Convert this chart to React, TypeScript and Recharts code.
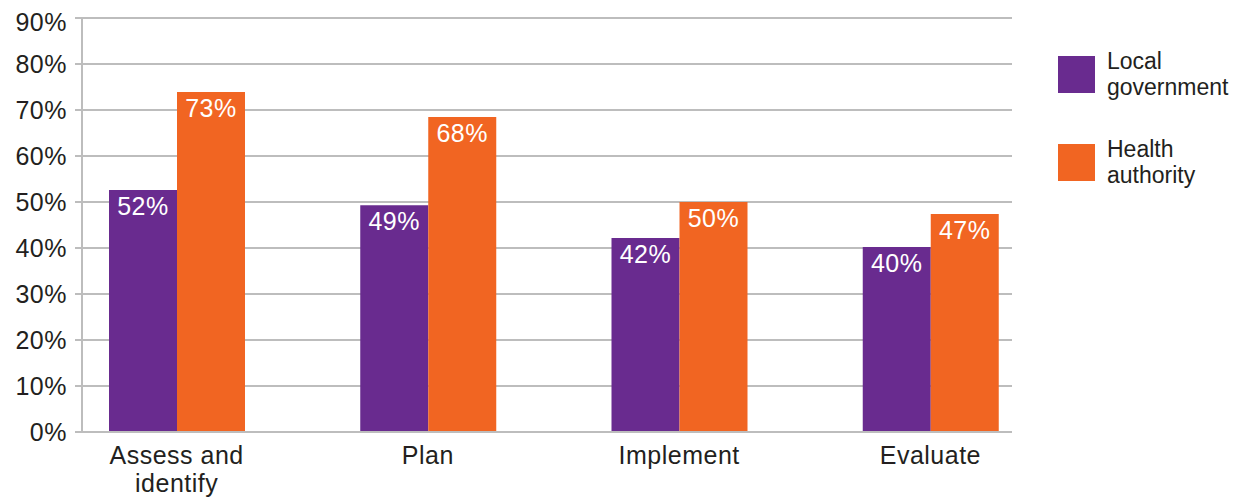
import { BarChart, Bar, XAxis, YAxis, CartesianGrid, Legend, LabelList } from "recharts";

const categories = ["Assess and identify", "Plan", "Implement", "Evaluate"];
const categoryLines = [["Assess and", "identify"], ["Plan"], ["Implement"], ["Evaluate"]];
const localGov = [52.6, 49.3, 42.2, 40.2];
const healthAuth = [73.9, 68.5, 50.0, 47.4];
const localLabels = ["52%", "49%", "42%", "40%"];
const healthLabels = ["73%", "68%", "50%", "47%"];
const seriesOrder = ["Local government", "Health authority"];
const yTicks = [0, 10, 20, 30, 40, 50, 60, 70, 80, 90];

const PURPLE = "#692b8f";
const ORANGE = "#f16522";
const GRID = "#bdbdbd";
const INK = "#231f20";
const FONT = "'Liberation Sans', Arial, Helvetica, sans-serif";

const data = categories.map((name, i) => ({
  name,
  local: localGov[i],
  health: healthAuth[i],
  localLabel: localLabels[i],
  healthLabel: healthLabels[i],
}));

const labelStyle = { fontSize: 25, fontFamily: FONT, letterSpacing: 0.5 };

function CategoryTick({ x, y, payload }: any) {
  const idx = categories.indexOf(payload.value);
  const lines = idx >= 0 ? categoryLines[idx] : [payload.value];
  return (
    <text x={x} y={y} textAnchor="middle" fill={INK} style={labelStyle}>
      {lines.map((l: string, i: number) => (
        <tspan key={i} x={x} dy={i === 0 ? "0.71em" : 28}>
          {l}
        </tspan>
      ))}
    </text>
  );
}

function LegendBox({ payload }: any) {
  const items = [...(payload || [])].sort(
    (a: any, b: any) => seriesOrder.indexOf(a.value) - seriesOrder.indexOf(b.value)
  );
  return (
    <div style={{ fontFamily: FONT, fontSize: 23, color: INK }}>
      {items.map((p: any) => (
        <div key={p.value} style={{ display: "flex", alignItems: "center", marginBottom: 36 }}>
          <div style={{ width: 37, height: 37, background: p.color, marginRight: 12, flexShrink: 0 }} />
          <div style={{ width: 140, lineHeight: "26px" }}>{p.value}</div>
        </div>
      ))}
    </div>
  );
}

export default function App() {
  return (
    <div style={{ fontFamily: FONT }}>
      <BarChart
        width={1239}
        height={490}
        data={data}
        margin={{ top: 10, right: 235, left: 0, bottom: 6 }}
        barCategoryGap={58}
        barGap={0}
      >
        <CartesianGrid vertical={false} stroke={GRID} strokeWidth={2} />
        <XAxis
          dataKey="name"
          height={60}
          padding={{ left: -31, right: -44 }}
          axisLine={{ stroke: GRID, strokeWidth: 2 }}
          tickLine={false}
          tickSize={0}
          tickMargin={14}
          tick={<CategoryTick />}
          interval={0}
        />
        <YAxis
          width={74}
          domain={[0, 90]}
          ticks={yTicks}
          tickFormatter={(v) => `${v}%`}
          axisLine={{ stroke: GRID, strokeWidth: 2 }}
          tickLine={{ stroke: GRID, strokeWidth: 2 }}
          tickSize={7}
          tickMargin={8}
          tick={{ fill: INK, style: labelStyle }}
        />
        <Legend
          layout="vertical"
          align="center"
          verticalAlign="middle"
          content={<LegendBox />}
          wrapperStyle={{ left: 1050, top: 40, width: 200 }}
        />
        <Bar dataKey="local" name="Local government" fill={PURPLE} isAnimationActive={false}>
          <LabelList
            dataKey="localLabel"
            position="insideTop"
            offset={7}
            fill="#ffffff"
            style={labelStyle}
          />
        </Bar>
        <Bar dataKey="health" name="Health authority" fill={ORANGE} isAnimationActive={false}>
          <LabelList
            dataKey="healthLabel"
            position="insideTop"
            offset={7}
            fill="#ffffff"
            style={labelStyle}
          />
        </Bar>
      </BarChart>
    </div>
  );
}
